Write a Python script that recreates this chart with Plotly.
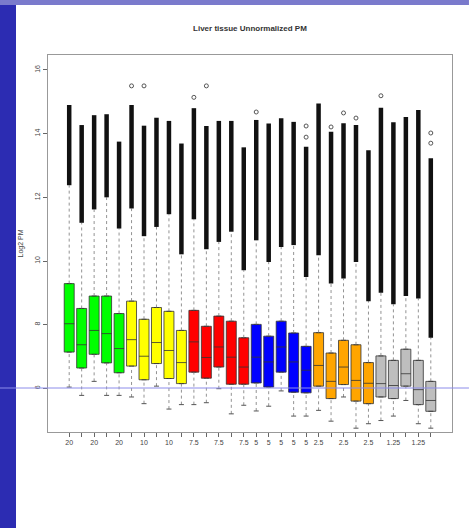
import plotly.graph_objects as go

# Liver tissue arrays, unnormalized log2 PM intensities (5 replicates per concentration)
positions = list(range(1, 31))
group_names = ["20", "10", "7.5", "5", "2.5", "1.25"]
group_colors = ["#00FF00", "#FFFF00", "#FF0000", "#0000FF", "#FFA500", "#BEBEBE"]
replicates = 5

tick_labels = ["20", "", "20", "", "20", "", "10", "", "10", "",
               "7.5", "", "7.5", "", "7.5", "5", "5", "5", "5", "5",
               "2.5", "", "2.5", "", "2.5", "", "1.25", "", "1.25", ""]

q3 = [9.29, 8.51, 8.90, 8.90, 8.35, 8.74, 8.17, 8.54, 8.42, 7.82,
      8.45, 7.95, 8.27, 8.11, 7.59, 8.01, 7.64, 8.11, 7.74, 7.32,
      7.75, 7.11, 7.51, 7.37, 6.81, 7.02, 6.88, 7.23, 6.88, 6.22]
median = [8.03, 7.37, 7.82, 7.72, 7.25, 7.53, 7.01, 7.44, 7.19, 6.81,
          7.46, 6.97, 7.30, 6.98, 6.67, 6.98, 6.83, 7.30, 6.83, 6.57,
          6.72, 6.22, 6.67, 6.25, 6.16, 6.15, 6.09, 6.46, 5.96, 5.62]
q1 = [7.14, 6.64, 7.07, 6.80, 6.49, 6.70, 6.27, 6.78, 6.31, 6.15,
      6.51, 6.32, 6.67, 6.13, 6.13, 6.17, 6.04, 6.51, 5.88, 5.86,
      6.07, 5.68, 6.12, 5.60, 5.52, 5.73, 5.68, 6.07, 5.49, 5.28]
lower_whisker = [6.04, 5.78, 6.22, 5.78, 5.78, 5.73, 5.52, 6.07, 5.35, 5.49,
                 5.49, 5.55, 5.99, 5.20, 5.47, 5.29, 5.44, 5.92, 5.13, 5.13,
                 5.31, 4.97, 5.73, 4.75, 4.89, 4.99, 5.13, 5.62, 4.89, 4.75]
upper_whisker = [12.38, 11.20, 11.62, 12.00, 11.02, 11.65, 10.78, 11.07, 11.47, 10.21,
                 11.31, 10.37, 10.60, 10.92, 9.71, 10.65, 9.97, 10.44, 10.50, 9.50,
                 10.18, 9.29, 9.45, 9.97, 8.74, 9.00, 8.64, 8.90, 8.82, 7.59]
outlier_max = [14.90, 14.27, 14.58, 14.61, 13.75, 14.90, 14.25, 14.50, 14.40, 13.69,
               14.80, 14.24, 14.40, 14.40, 13.57, 14.43, 14.32, 14.48, 14.37, 13.59,
               14.95, 14.06, 14.33, 14.27, 13.48, 14.81, 14.36, 14.52, 14.74, 13.23]

# separate high points lying above the dense outlier runs
far_box = [6, 7, 11, 12, 16, 20, 20, 22, 23, 24, 26, 30, 30]
far_value = [15.50, 15.50, 15.14, 15.50, 14.68, 14.24, 13.89, 14.21, 14.65, 14.49, 15.19, 14.02, 13.70]

y_ticks = [6, 8, 10, 12, 14, 16]

fig = go.Figure()

# dashed whiskers
wx, wy = [], []
for p, a, b, c, d in zip(positions, q1, lower_whisker, q3, upper_whisker):
    wx += [p, p, None, p, p, None]
    wy += [b, a, None, c, d, None]
fig.add_trace(go.Scatter(x=wx, y=wy, mode="lines", hoverinfo="skip",
                         line=dict(color="#777777", width=0.8, dash="dot"),
                         showlegend=False))

# lower whisker staples
sx, sy = [], []
for p, b in zip(positions, lower_whisker):
    sx += [p - 0.2, p + 0.2, None]
    sy += [b, b, None]
fig.add_trace(go.Scatter(x=sx, y=sy, mode="lines", hoverinfo="skip",
                         line=dict(color="#555555", width=1),
                         showlegend=False))

# boxes, one trace per concentration group
for g, (name, color) in enumerate(zip(group_names, group_colors)):
    s = slice(g * replicates, (g + 1) * replicates)
    fig.add_trace(go.Box(
        x=positions[s], q1=q1[s], median=median[s], q3=q3[s],
        lowerfence=q1[s], upperfence=q3[s],
        width=0.8, fillcolor=color, name=name, boxpoints=False,
        line=dict(color="#333333", width=0.8), showlegend=False))

# dense runs of upper outliers
ox, oy = [], []
for p, d, m in zip(positions, upper_whisker, outlier_max):
    ox += [p, p, None]
    oy += [d, m, None]
fig.add_trace(go.Scatter(x=ox, y=oy, mode="lines", hoverinfo="skip",
                         line=dict(color="#111111", width=4.5),
                         showlegend=False))

fig.add_trace(go.Scatter(x=far_box, y=far_value, mode="markers",
                         marker=dict(symbol="circle-open", size=4, color="#555555",
                                     line=dict(width=1)),
                         showlegend=False))

axis_font = dict(family="Liberation Sans, Arial, sans-serif", size=7, color="#444444")

fig.update_layout(
    width=469, height=528, autosize=False,
    margin=dict(l=48, r=17, t=55, b=96),
    paper_bgcolor="white", plot_bgcolor="white",
    title=dict(text="<b>Liver tissue Unnormalized PM</b>", x=0.533, y=0.947,
               xanchor="center", yanchor="middle",
               font=dict(family="Liberation Sans, Arial, sans-serif", size=8, color="#333333")),
    xaxis=dict(range=[-0.7, 31.7], tickmode="array", tickvals=positions, ticktext=tick_labels,
               ticks="outside", ticklen=4, tickcolor="#666666", tickfont=axis_font,
               showline=True, mirror=True, linecolor="#999999", linewidth=1,
               showgrid=False, zeroline=False, tickangle=0),
    yaxis=dict(range=[4.63, 16.47], tickmode="array", tickvals=y_ticks,
               ticktext=[str(v) for v in y_ticks],
               ticks="outside", ticklen=4, tickcolor="#666666", tickfont=axis_font,
               tickangle=-90,
               showline=True, mirror=True, linecolor="#999999", linewidth=1,
               showgrid=False, zeroline=False),
    annotations=[dict(text="Log2 PM", xref="paper", yref="paper", x=-0.067, y=0.5,
                      textangle=-90, showarrow=False, xanchor="center", yanchor="middle",
                      font=dict(family="Liberation Sans, Arial, sans-serif", size=7,
                                color="#444444"))],
    shapes=[
        # slide frame: left band and top strip
        dict(type="rect", xref="paper", yref="paper", x0=-0.1188, x1=-0.0792,
             y0=-0.2546, y1=1.1459, fillcolor="#2c2cb2", line=dict(width=0), layer="above"),
        dict(type="rect", xref="paper", yref="paper", x0=-0.1188, x1=1.042,
             y0=1.1326, y1=1.1459, fillcolor="#7a7acc", line=dict(width=0), layer="above"),
        # thin guide line across the slide
        dict(type="line", xref="paper", yref="paper", x0=-0.1188, x1=1.042,
             y0=0.1167, y1=0.1167, line=dict(color="#8c8cea", width=1), layer="above"),
    ],
)

fig.write_html("out.html")
